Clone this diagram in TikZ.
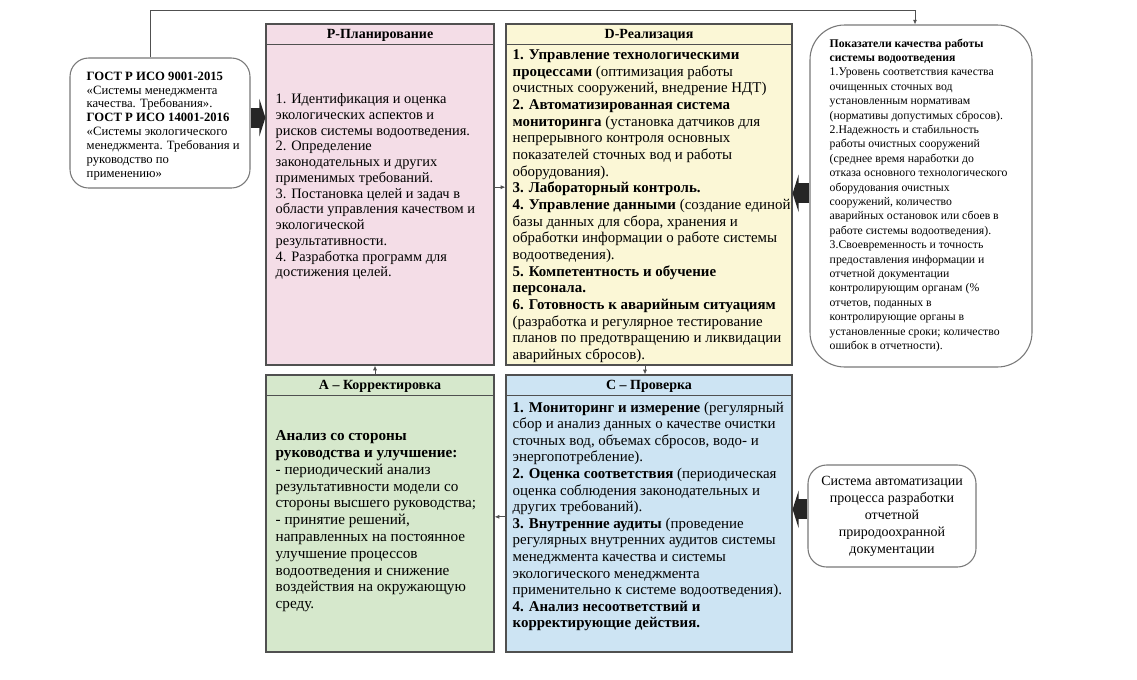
\documentclass[tikz,border=0pt]{standalone}
\usepackage{fontspec}
\setmainfont{Liberation Serif}
\usetikzlibrary{arrows.meta,positioning,calc,fit}
\definecolor{pdcaedge}{RGB}{80,80,80}
\definecolor{noteedge}{RGB}{120,120,120}
\definecolor{planpink}{RGB}{244,221,231}
\definecolor{doyellow}{RGB}{251,247,214}
\definecolor{actgreen}{RGB}{214,232,204}
\definecolor{checkblue}{RGB}{205,228,243}

\begin{document}
\begin{tikzpicture}[x=0.75pt,y=-0.75pt,
  stage/.style={draw=pdcaedge,line width=0.9pt,inner sep=0pt},
  note/.style={draw=noteedge,line width=0.8pt,fill=white,inner sep=0pt},
  head/.style={font=\fontsize{10.5}{12}\selectfont\bfseries},
  body/.style={anchor=north west,inner sep=0pt,align=left,font=\fontsize{11}{12.5}\selectfont},
  link/.style={draw=pdcaedge,line width=0.6pt,-{Latex[length=3.5pt,width=3pt]}},
  fat/.style={draw=black!85,line width=15pt,-{Triangle[length=4.5pt,width=28pt]}}
]
  \fill[white] (0,0) rectangle (1137,679);
  \useasboundingbox (0,0) rectangle (1137,679);

  % PDCA stages
  \node[stage,fill=planpink,fit={(266,24) (494,365)}] (plan) {};
  \node[stage,fill=doyellow,fit={(506,24) (792,365)}] (do) {};
  \node[stage,fill=actgreen,fit={(266,375) (494,652)}] (act) {};
  \node[stage,fill=checkblue,fit={(506,375) (792,652)}] (check) {};
  \foreach \s in {plan,do,act,check}
    \draw[draw=pdcaedge,line width=0.9pt] ($(\s.north west)+(0,21)$) -- ($(\s.north east)+(0,21)$);

  \node[head] (plantitle) at ($(plan.north)+(0,12)$) {Р-Планирование};
  \node[head] (dotitle) at ($(do.north)+(0,12)$) {D-Реализация};
  \node[head] (acttitle) at ($(act.north)+(0,12)$) {А – Корректировка};
  \node[head] (checktitle) at ($(check.north)+(0,12)$) {С – Проверка};

  \node[body,font=\fontsize{10.8}{11.8}\selectfont] (plantext) at ($(plan.north west)+(10,70)$) {
    1. Идентификация и оценка\\
    экологических аспектов и\\
    рисков системы водоотведения.\\
    2. Определение\\
    законодательных и других\\
    применимых требований.\\
    3. Постановка целей и задач в\\
    области управления качеством и\\
    экологической\\
    результативности.\\
    4. Разработка программ для\\
    достижения целей.};
  \node[body,font=\fontsize{11.2}{12.5}\selectfont] (dotext) at ($(do.north west)+(7,26)$) {
    \textbf{1. Управление технологическими}\\
    \textbf{процессами} (оптимизация работы\\
    очистных сооружений, внедрение НДТ)\\
    \textbf{2. Автоматизированная система}\\
    \textbf{мониторинга} (установка датчиков для\\
    непрерывного контроля основных\\
    показателей сточных вод и работы\\
    оборудования).\\
    \textbf{3. Лабораторный контроль.}\\
    \textbf{4. Управление данными} (создание единой\\
    базы данных для сбора, хранения и\\
    обработки информации о работе системы\\
    водоотведения).\\
    \textbf{5. Компетентность и обучение}\\
    \textbf{персонала.}\\
    \textbf{6. Готовность к аварийным ситуациям}\\
    (разработка и регулярное тестирование\\
    планов по предотвращению и ликвидации\\
    аварийных сбросов).};
  \node[body,font=\fontsize{11.4}{12.6}\selectfont] (acttext) at ($(act.north west)+(10,56)$) {
    \textbf{Анализ со стороны}\\
    \textbf{руководства и улучшение:}\\
    - периодический анализ\\
    результативности модели со\\
    стороны высшего руководства;\\
    - принятие решений,\\
    направленных на постоянное\\
    улучшение процессов\\
    водоотведения и снижение\\
    воздействия на окружающую\\
    среду.};
  \node[body,font=\fontsize{11.2}{12.45}\selectfont] (checktext) at ($(check.north west)+(7,27)$) {
    \textbf{1. Мониторинг и измерение} (регулярный\\
    сбор и анализ данных о качестве очистки\\
    сточных вод, объемах сбросов, водо- и\\
    энергопотребление).\\
    \textbf{2. Оценка соответствия} (периодическая\\
    оценка соблюдения законодательных и\\
    других требований).\\
    \textbf{3. Внутренние аудиты} (проведение\\
    регулярных внутренних аудитов системы\\
    менеджмента качества и системы\\
    экологического менеджмента\\
    применительно к системе водоотведения).\\
    \textbf{4. Анализ несоответствий и}\\
    \textbf{корректирующие действия.}};

  % side notes
  \node[note,rounded corners=14pt,fit={(70,58) (250,188)}] (gost) {};
  \node[body,font=\fontsize{9.5}{10.4}\selectfont] (gosttext) at ($(gost.north west)+(17,14)$) {
    \textbf{ГОСТ Р ИСО 9001-2015}\\
    «Системы менеджмента\\
    качества. Требования».\\
    \textbf{ГОСТ Р ИСО 14001-2016}\\
    «Системы экологического\\
    менеджмента. Требования и\\
    руководство по\\
    применению»};
  \node[note,rounded corners=26pt,fit={(810,25) (1032,367)}] (ind) {};
  \node[body,font=\fontsize{8.8}{10.8}\selectfont] (indtext) at ($(ind.north west)+(20,14)$) {
    \textbf{Показатели качества работы}\\
    \textbf{системы водоотведения}\\
    1.Уровень соответствия качества\\
    очищенных сточных вод\\
    установленным нормативам\\
    (нормативы допустимых сбросов).\\
    2.Надежность и стабильность\\
    работы очистных сооружений\\
    (среднее время наработки до\\
    отказа основного технологического\\
    оборудования очистных\\
    сооружений, количество\\
    аварийных остановок или сбоев в\\
    работе системы водоотведения).\\
    3.Своевременность и точность\\
    предоставления информации и\\
    отчетной документации\\
    контролирующим органам (\%\\
    отчетов, поданных в\\
    контролирующие органы в\\
    установленные сроки; количество\\
    ошибок в отчетности).};
  \node[note,rounded corners=14pt,fit={(808,465) (976,567)}] (auto) {};
  \node[align=center,inner sep=0pt,font=\fontsize{10.5}{12.8}\selectfont] (autotext) at (auto.center) {
    Система автоматизации\\
    процесса разработки\\
    отчетной\\
    природоохранной\\
    документации};

  % cycle links
  \draw[link] ([yshift=5.5pt]plan.east) -- ([yshift=5.5pt]do.west);
  \draw[link] ([xshift=-3pt]do.south) -- ([xshift=-3pt]check.north);
  \draw[link] ([yshift=-2.5pt]check.west) -- ([yshift=-2.5pt]act.east);
  \draw[link] ([xshift=-3.75pt]act.north) -- ([xshift=-3.75pt]plan.south);

  % inputs
  \coordinate (loop) at (915,10);
  \draw[link] ([xshift=-7.5pt]gost.north) |- (loop) -- ([xshift=-4.5pt]ind.north);
  \draw[fat] ([yshift=4pt]gost.east) -- ([yshift=4pt]gost.east -| plan.west);
  \draw[fat] ([yshift=2pt]ind.west) -- ([yshift=2pt]ind.west -| do.east);
  \draw[fat] ([yshift=5pt]auto.west) -- ([yshift=5pt]auto.west -| check.east);
\end{tikzpicture}
\end{document}
